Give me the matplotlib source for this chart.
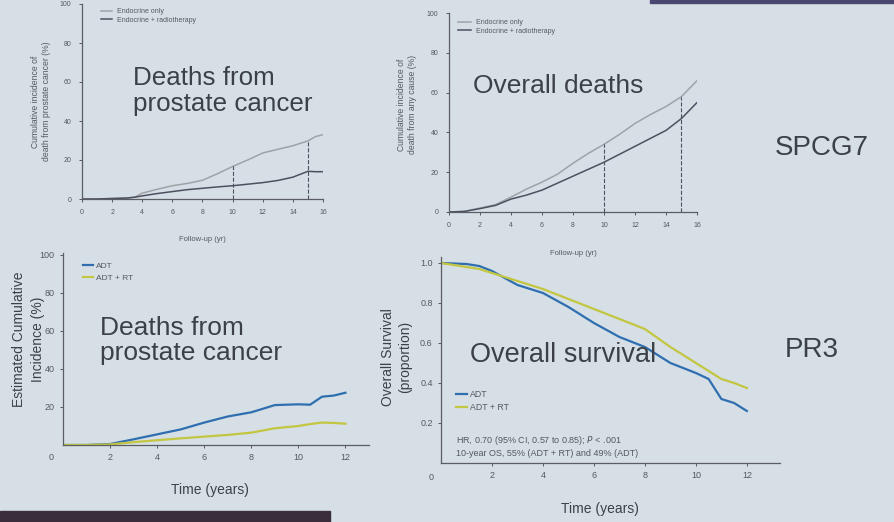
import matplotlib.pyplot as plt
from matplotlib.patches import Rectangle

plt.rcParams['font.family'] = ['Liberation Sans', 'DejaVu Sans']

W, H = 895, 522
BG = '#d6dfe5'
TXT = '#3c4148'
TICK = '#55595f'

# SPCG7 - deaths from prostate cancer
spcg_pc_years = [0, 1, 2, 3, 3.5, 4, 5, 6, 7, 8, 9, 10, 11, 12, 13, 14, 15, 15.5, 16]
spcg_pc_endo = [0, 0, 0, 0.5, 1, 3, 5, 6.8, 8, 9.6, 13, 16.7, 20, 23.6, 25.5, 27.3, 29.8, 32, 33]
spcg_pc_endo_rt = [0, 0, 0.3, 0.5, 0.9, 1.6, 2.8, 3.8, 4.8, 5.5, 6.2, 6.8, 7.6, 8.4, 9.5, 11.2, 14.2, 14, 14]

# SPCG7 - overall deaths
spcg_os_years = [0, 1, 2, 3, 4, 5, 6, 7, 8, 9, 10, 11, 12, 13, 14, 15, 16]
spcg_os_endo = [0, 0.3, 2, 3.7, 7.5, 11.5, 15, 19, 24.5, 29.5, 34, 39, 44.5, 49, 53, 58, 66]
spcg_os_endo_rt = [0, 0.3, 1.7, 3.3, 6.5, 8.5, 11, 14.5, 18, 21.5, 25, 29, 33, 37, 41, 47, 55]

# PR3 - deaths from prostate cancer
pr3_pc_years = [0, 1, 2, 3, 4, 5, 6, 7, 8, 9, 10, 10.5, 11, 11.5, 12]
pr3_pc_adt = [0, 0, 0.5, 3, 5.6, 8.2, 11.8, 15, 17.2, 21, 21.4, 21.2, 25.4, 26, 27.5]
pr3_pc_adt_rt = [0, 0, 0.3, 1.5, 2.5, 3.5, 4.4, 5.3, 6.5, 8.8, 10, 11, 11.8, 11.6, 11.2]

# PR3 - overall survival
pr3_os_years = [0, 1, 1.5, 2, 3, 4, 5, 6, 7, 8, 9, 10, 10.5, 11, 11.5, 12]
pr3_os_adt = [1.0, 0.995, 0.985, 0.96, 0.89, 0.85, 0.78, 0.70, 0.63, 0.58, 0.50, 0.45, 0.42, 0.32, 0.30, 0.26]
pr3_os_adt_rt = [1.0, 0.98, 0.97, 0.95, 0.91, 0.87, 0.82, 0.77, 0.72, 0.67, 0.58, 0.50, 0.46, 0.42, 0.40, 0.375]

landmarks = [10, 15]


def px_axes(fig, x0, y_bottom, x1, y_top):
    return fig.add_axes([x0 / W, 1 - y_bottom / H, (x1 - x0) / W, (y_bottom - y_top) / H])


def style(ax, size, pad):
    ax.set_facecolor('none')
    for s in ['top', 'right']:
        ax.spines[s].set_visible(False)
    for s in ['left', 'bottom']:
        ax.spines[s].set_color('#5a5e64')
        ax.spines[s].set_linewidth(0.9)
    ax.tick_params(labelsize=size, colors=TICK, length=2.5, width=0.7, pad=pad)


fig = plt.figure(figsize=(W / 100, H / 100), dpi=100)
fig.patch.set_facecolor(BG)

# ---- top left
ax1 = px_axes(fig, 82, 199, 323, 4)
style(ax1, 5, 5)
ax1.plot(spcg_pc_years, spcg_pc_endo, color='#9ea3a8', lw=1.1, label='Endocrine only')
ax1.plot(spcg_pc_years, spcg_pc_endo_rt, color='#4c5160', lw=1.1, label='Endocrine + radiotherapy')
for yr in landmarks:
    ax1.vlines(yr, 0, spcg_pc_endo[spcg_pc_years.index(yr)], colors='#4c5160', linestyles='--', lw=0.8)
ax1.set_xlim(0, 16)
ax1.set_ylim(0, 100)
ax1.set_xticks(range(0, 17, 2))
ax1.set_yticks(range(0, 101, 20))
ax1.set_xlabel('Follow-up (yr)', fontsize=5.5, color=TICK)
ax1.xaxis.set_label_coords(0.5, -0.19)
ax1.set_ylabel('Cumulative incidence of\ndeath from prostate cancer (%)', fontsize=6.2, color=TICK)
ax1.yaxis.set_label_coords(-0.13, 0.5)
ax1.legend(loc='upper left', bbox_to_anchor=(0.06, 1.0), frameon=False, fontsize=5,
           handlelength=1.6, labelcolor=TICK, borderaxespad=0.2, labelspacing=0.2)

# ---- top right
ax2 = px_axes(fig, 449, 212, 697, 13)
style(ax2, 5, 5)
ax2.plot(spcg_os_years, spcg_os_endo, color='#9ea3a8', lw=1.1, label='Endocrine only')
ax2.plot(spcg_os_years, spcg_os_endo_rt, color='#4c5160', lw=1.1, label='Endocrine + radiotherapy')
for yr in landmarks:
    ax2.vlines(yr, 0, spcg_os_endo[spcg_os_years.index(yr)], colors='#4c5160', linestyles='--', lw=0.8)
ax2.set_xlim(0, 16)
ax2.set_ylim(0, 100)
ax2.set_xticks(range(0, 17, 2))
ax2.set_yticks(range(0, 101, 20))
ax2.set_xlabel('Follow-up (yr)', fontsize=5.5, color=TICK)
ax2.xaxis.set_label_coords(0.5, -0.19)
ax2.set_ylabel('Cumulative incidence of\ndeath from any cause (%)', fontsize=6.2, color=TICK)
ax2.yaxis.set_label_coords(-0.13, 0.54)
ax2.legend(loc='upper left', bbox_to_anchor=(0.02, 0.99), frameon=False, fontsize=5,
           handlelength=1.8, labelcolor=TICK, borderaxespad=0.2, labelspacing=0.2)

# ---- bottom left
ax3 = px_axes(fig, 63, 445, 369, 253)
style(ax3, 6.5, 3.5)
ax3.plot(pr3_pc_years, pr3_pc_adt, color='#2f6fb0', lw=1.6, label='ADT')
ax3.plot(pr3_pc_years, pr3_pc_adt_rt, color='#c3c640', lw=1.6, label='ADT + RT')
ax3.set_xlim(0, 13)
ax3.set_ylim(0, 101)
ax3.set_xticks(range(2, 13, 2))
ax3.set_yticks(range(20, 101, 20))
ax3.text(-0.5, -6.5, '0', fontsize=6.5, color=TICK, ha='center', va='center')
ax3.set_xlabel('Time (years)', fontsize=10, color=TXT)
ax3.xaxis.set_label_coords(0.48, -0.2)
ax3.set_ylabel('Estimated Cumulative\nIncidence (%)', fontsize=10, color=TXT, linespacing=1.4)
ax3.yaxis.set_label_coords(-0.06, 0.55)
ax3.legend(loc='upper left', bbox_to_anchor=(0.05, 0.98), frameon=False, fontsize=6,
           handlelength=1.2, handletextpad=0.3, labelcolor=TICK, borderaxespad=0.2, labelspacing=0.5)

# ---- bottom right
ax4 = px_axes(fig, 441, 463, 780, 257)
style(ax4, 6.5, 3.5)
ax4.plot(pr3_os_years, pr3_os_adt, color='#2f6fb0', lw=1.6, label='ADT')
ax4.plot(pr3_os_years, pr3_os_adt_rt, color='#c3c640', lw=1.6, label='ADT + RT')
ax4.set_xlim(0, 13.3)
ax4.set_ylim(0, 1.03)
ax4.set_xticks(range(2, 13, 2))
ax4.set_yticks([0.2, 0.4, 0.6, 0.8, 1.0])
ax4.set_yticklabels(['0.2', '0.4', '0.6', '0.8', '1.0'])
ax4.text(-0.4, -0.07, '0', fontsize=6.5, color=TICK, ha='center', va='center')
ax4.set_xlabel('Time (years)', fontsize=10, color=TXT)
ax4.xaxis.set_label_coords(0.47, -0.19)
ax4.set_ylabel('Overall Survival\n(proportion)', fontsize=10, color=TXT, linespacing=1.3)
ax4.yaxis.set_label_coords(-0.085, 0.515)
ax4.legend(loc='upper left', bbox_to_anchor=(0.03, 0.38), frameon=False, fontsize=6.3,
           handlelength=1.2, handletextpad=0.3, labelcolor=TICK, borderaxespad=0.2, labelspacing=0.5)
ax4.text(0.6, 0.085, 'HR, 0.70 (95% CI, 0.57 to 0.85); $P$ < .001\n10-year OS, 55% (ADT + RT) and 49% (ADT)',
         fontsize=6.5, color=TICK, va='center', linespacing=1.3)

# ---- overlaid slide text
fig.text(133 / W, 1 - 66 / H, 'Deaths from\nprostate cancer', fontsize=18.7, color=TXT, va='top', linespacing=1.1)
fig.text(473 / W, 1 - 74 / H, 'Overall deaths', fontsize=19, color=TXT, va='top')
fig.text(100 / W, 1 - 316 / H, 'Deaths from\nprostate cancer', fontsize=19, color=TXT, va='top', linespacing=1.05)
fig.text(470 / W, 1 - 342 / H, 'Overall survival', fontsize=19.5, color=TXT, va='top')
fig.text(775 / W, 1 - 148 / H, 'SPCG7', fontsize=20, color=TXT, va='center')
fig.text(785 / W, 1 - 350 / H, 'PR3', fontsize=20, color=TXT, va='center')

# slide edges visible in the photo
fig.patches.append(Rectangle((0, 0), 330 / W, 11 / H, transform=fig.transFigure,
                             color='#3b2d3a', zorder=0))
fig.patches.append(Rectangle((650 / W, 1 - 3 / H), 245 / W, 3 / H, transform=fig.transFigure,
                             color='#4a4870', zorder=0))

fig.savefig('out.png', dpi=100, facecolor=BG)
